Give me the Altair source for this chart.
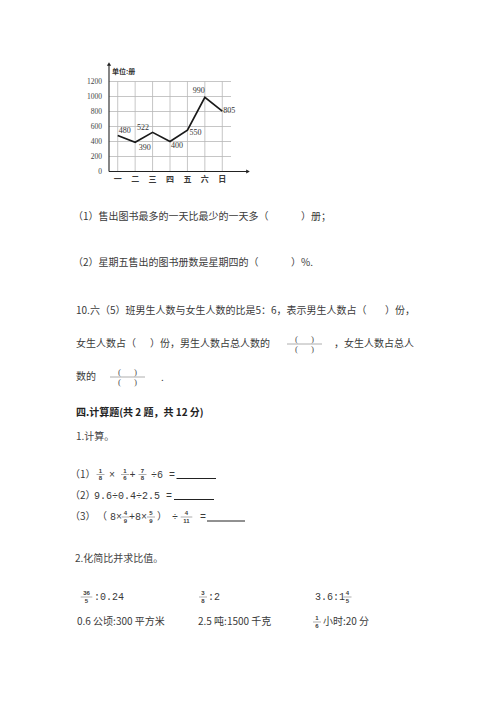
import altair as alt
import pandas as pd

# ---------------- data ----------------
days = ["一", "二", "三", "四", "五", "六", "日"]
books = [480, 390, 522, 400, 550, 990, 805]
y_ticks = [0, 200, 400, 600, 800, 1000, 1200]
unit_label = "单位:册"

q1_a = "（1）售出图书最多的一天比最少的一天多（"
q1_b = "）册；"
q2_a = "（2）星期五售出的图书册数是星期四的（"
q2_b = "）%."
q10_a = "10.六（5）班男生人数与女生人数的比是5：6，表示男生人数占（"
q10_b = "）份，"
q10_c = "女生人数占（"
q10_d = "）份，男生人数占总人数的"
q10_e = "，女生人数占总人"
q10_f = "数的"
q10_g = "."
sec4 = "四.计算题(共 2 题，共 12 分)"
calc1 = "1.计算。"
calc2 = "2.化简比并求比值。"

# ---------------- style / layout ----------------
M = 8
CJK = "Noto Sans CJK SC"
MONO = "Liberation Mono"
SERIF = "Liberation Serif"
TXT = "#3a3a3a"
one = alt.Data(values=[{"a": 1}])


def P(v):
    return v - M


def text(s, x, y, size=10, font=CJK, align="left", weight="normal", color=TXT):
    return alt.Chart(one).mark_text(
        text=s, font=font, fontSize=size, align=align, baseline="middle",
        fontWeight=weight, fill=color
    ).encode(x=alt.value(P(x)), y=alt.value(P(y)))


def hline(x1, x2, y, color="#222", width=1.0):
    return alt.Chart(one).mark_rule(color=color, strokeWidth=width).encode(
        x=alt.value(P(x1)), x2=alt.value(P(x2)), y=alt.value(P(y)))


def vline(x, y1, y2, color="#222", width=1.0):
    return alt.Chart(one).mark_rule(color=color, strokeWidth=width).encode(
        x=alt.value(P(x)), y=alt.value(P(y1)), y2=alt.value(P(y2)))


def frac(num, den, cx, cy, size=6):
    hw = 2.2 + 1.8 * max(len(num), len(den))
    return [
        text(num, cx, cy - 3.6, size=size, font="Liberation Sans", align="center", weight="bold"),
        hline(cx - hw, cx + hw, cy, color="#777", width=0.6),
        text(den, cx, cy + 3.8, size=size, font="Liberation Sans", align="center", weight="bold"),
    ]


def paren_frac(x1, x2, cy):
    cx = (x1 + x2) / 2
    out = [hline(x1, x2, cy, color="#999", width=0.8)]
    for yy in (cy - 5, cy + 5):
        out.append(text("(", cx - 8, yy, size=9, font=SERIF, align="center", color="#555"))
        out.append(text(")", cx + 8, yy, size=9, font=SERIF, align="center", color="#555"))
    return out


layers = []

# ---------------- line chart ----------------
xscale = alt.Scale(domain=days, range=[P(109), P(231)], padding=0)
yscale = alt.Scale(domain=[0, 1200], range=[P(171.5), P(81.5)])

df = pd.DataFrame({"day": days, "books": books, "idx": list(range(len(days)))})
tick_df = pd.DataFrame({"v": y_ticks})
GRID = "#b8b8b8"

layers.append(
    alt.Chart(tick_df).mark_rule(color=GRID, strokeWidth=0.8).encode(
        y=alt.Y("v:Q", scale=yscale, axis=None),
        x=alt.value(P(109)), x2=alt.value(P(231)))
)
layers.append(
    alt.Chart(pd.DataFrame({"day": days})).mark_rule(color=GRID, strokeWidth=0.8).encode(
        x=alt.X("day:O", scale=xscale, axis=None),
        y=alt.value(P(81.5)), y2=alt.value(P(171.5)))
)
# axes with arrows
layers.append(vline(109, 64, 171.5, width=1.1))
layers.append(hline(109, 248, 171.5, width=1.1))
layers.append(alt.Chart(one).mark_point(shape="triangle-up", filled=True, size=18, color="#222", opacity=1)
              .encode(x=alt.value(P(109)), y=alt.value(P(64))))
layers.append(alt.Chart(one).mark_point(shape="triangle-right", filled=True, size=18, color="#222", opacity=1)
              .encode(x=alt.value(P(248)), y=alt.value(P(171.5))))

layers.append(
    alt.Chart(tick_df).mark_text(align="right", baseline="middle", fontSize=7.5, font=SERIF, fill="#444").encode(
        y=alt.Y("v:Q", scale=yscale, axis=None), x=alt.value(P(102)),
        text=alt.Text("v:Q", format="d"))
)
layers.append(
    alt.Chart(pd.DataFrame({"day": days})).mark_text(baseline="middle", fontSize=8, font=CJK,
                                                     fontWeight="bold", fill="#3a3a3a").encode(
        x=alt.X("day:O", scale=xscale, axis=None), y=alt.value(P(180)), text="day:N")
)
layers.append(text(unit_label, 112, 72, size=7, weight="bold", color="#333"))

layers.append(
    alt.Chart(df).mark_line(color="#1a1a1a", strokeWidth=1.7).encode(
        x=alt.X("day:O", scale=xscale, axis=None),
        y=alt.Y("books:Q", scale=yscale, axis=None),
        order="idx:Q")
)
label_dx = [7, 9.5, -9.5, 7, 8, -6, 7]
label_dy = [-5, 6, -4, 4.5, 3, -6, 0]
for i in range(len(days)):
    layers.append(
        alt.Chart(df.iloc[[i]]).mark_text(dx=label_dx[i], dy=label_dy[i], fontSize=8, font=SERIF,
                                          fill="#333", baseline="middle").encode(
            x=alt.X("day:O", scale=xscale, axis=None),
            y=alt.Y("books:Q", scale=yscale, axis=None),
            text=alt.Text("books:Q", format="d"))
    )

# ---------------- worksheet text ----------------
layers += [
    text(q1_a, 73, 216.5), text(q1_b, 301, 216.5),
    text(q2_a, 73, 263), text(q2_b, 291, 263),
    text(q10_a, 76, 311), text(q10_b, 385, 311),
    text(q10_c, 76, 344), text(q10_d, 150, 344),
    text(q10_e, 334, 344),
    text(q10_f, 76, 376.5), text(q10_g, 161, 378),
]
layers += paren_frac(287, 322, 344)
layers += paren_frac(110, 145, 377)

layers.append(text(sec4, 76, 413, weight="bold", color="#222"))
layers.append(text(calc1, 76, 437, color="#444"))

# (1)
r1 = 474.5
layers.append(text("（1）", 70, r1))
layers += frac("1", "8", 100.5, r1)
layers.append(text("×", 112, r1, font=MONO, align="center"))
layers += frac("1", "6", 125, r1)
layers.append(text("+", 132.5, r1, font=MONO, align="center"))
layers += frac("7", "8", 142.5, r1)
layers.append(text("÷6 =", 151, r1, font=MONO))
layers.append(hline(176.5, 216, r1 + 4, width=1))
# (2)
r2 = 495.5
layers.append(text("（2）", 70, r2))
layers.append(text("9.6÷0.4÷2.5 =", 94, r2, font=MONO))
layers.append(hline(174, 214, r2 + 4, width=1))
# (3)
r3 = 517
layers.append(text("（3）", 70, r3))
layers.append(text("（", 97, r3))
layers.append(text("8×", 110, r3, font=MONO))
layers += frac("4", "9", 125.5, r3)
layers.append(text("+8×", 129, r3, font=MONO))
layers += frac("5", "9", 151, r3)
layers.append(text("）", 157, r3))
layers.append(text("÷", 175, r3, font=MONO, align="center"))
layers += frac("4", "11", 186.5, r3)
layers.append(text("=", 203, r3, font=MONO, align="center"))
layers.append(hline(207, 245, r3 + 4, width=1))

# 2. 化简比
layers.append(text(calc2, 75, 559, color="#444"))
s1 = 597
layers += frac("36", "5", 86.5, s1)
layers.append(text(":0.24", 94, s1, font=MONO))
layers += frac("3", "8", 203, s1)
layers.append(text(":2", 208, s1, font=MONO))
layers.append(text("3.6:1", 315, s1, font=MONO))
layers += frac("4", "5", 347.5, s1)
s2 = 622
layers.append(text("0.6 公顷:300 平方米", 77, s2))
layers.append(text("2.5 吨:1500 千克", 198, s2))
layers += frac("1", "6", 317, s2)
layers.append(text("小时:20 分", 323, s2))

chart = alt.layer(*layers).properties(
    width=484, height=691, padding=0, autosize="none"
).configure_view(stroke=None)

chart.save("out.html", embed_options={"renderer": "svg", "actions": False})
